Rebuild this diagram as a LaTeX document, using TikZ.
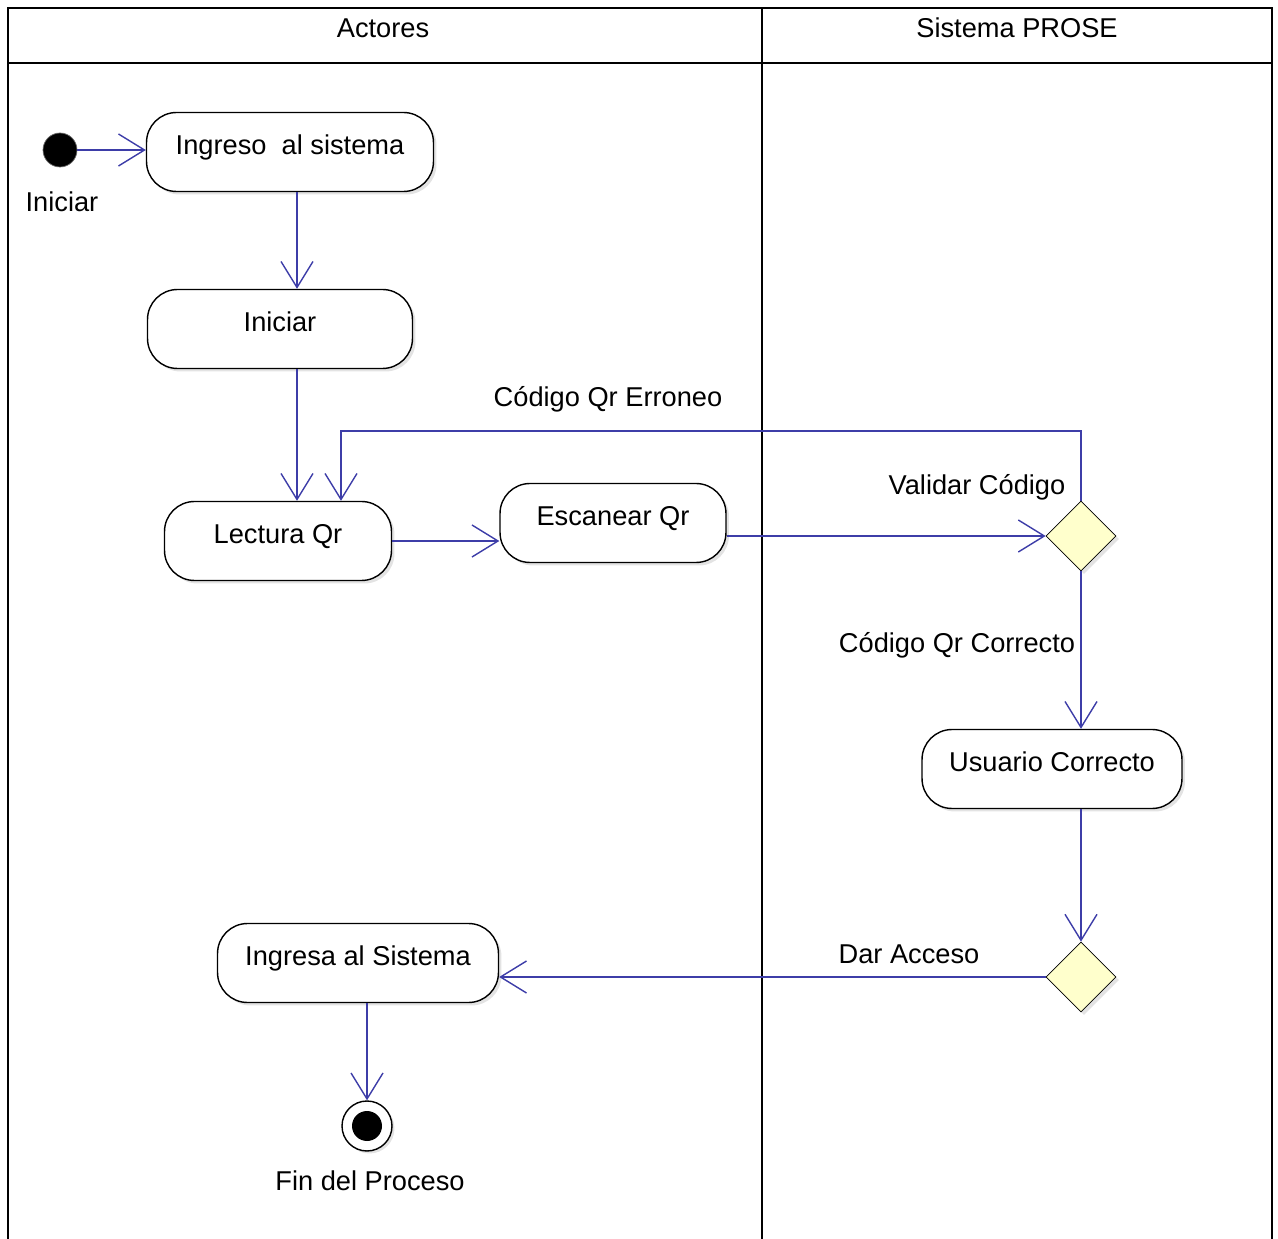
\documentclass[tikz,border=0pt]{standalone}
\usepackage{fontspec}
\setmainfont{Liberation Sans}
\usepackage{tikz}
\usetikzlibrary{positioning, arrows.meta, calc, shapes.geometric, shadows}
\definecolor{myBlue}{HTML}{3D3DA8}
\definecolor{myCream}{HTML}{FFFFCC}
\definecolor{myShade}{HTML}{C8C8C8}
\begin{document}
\begin{tikzpicture}[
  x=0.02cm, y=-0.02cm,
  font=\fontsize{15.5pt}{18pt}\selectfont,
  act/.style={draw=black, thick, rounded corners=0.6cm, fill=white,
              minimum height=1.58cm, align=center,
              text height=0.8em, text depth=0.5em,
              drop shadow={shadow xshift=0.06cm, shadow yshift=-0.06cm, fill=myShade}},
  dec/.style={diamond, draw=black, fill=myCream, minimum width=1.4cm,
              minimum height=1.4cm, inner sep=0pt,
              drop shadow={shadow xshift=0.06cm, shadow yshift=-0.06cm, fill=myShade}},
  flow/.style={-{Straight Barb[length=0.52cm, width=0.64cm]}, myBlue, line width=0.8pt},
  lane/.style={draw=black, line width=1.2pt}
]
\useasboundingbox (0,0) rectangle (1278,1239);
% swimlanes
\draw[lane] (8,1239) -- (8,8) -- (1272,8) -- (1272,1239);
\draw[lane] (8,63) -- (1272,63);
\draw[lane] (762,8) -- (762,1239);
\node (actores) at (383,28) {Actores};
\node (prose) at (1017,28) {Sistema PROSE};

% actividades
\node[circle, fill=black, draw=black!60, minimum size=0.68cm] (inicio) at (60,150) {};
\node (inilbl) at (62,202) {Iniciar};
\node[act, minimum width=5.74cm] (ingreso) at (290,152) {Ingreso\ \ al sistema};
\node[act, minimum width=5.3cm] (iniciar) at (280,329) {Iniciar};
\node[act, minimum width=4.54cm] (lectura) at (278,541) {Lectura Qr};
\node[act, minimum width=4.52cm] (escanear) at (613,523) {Escanear Qr};
\node[dec] (validar) at (1081,536) {};
\node (vallbl) at (977,487) {Validar Código};
\node[act, minimum width=5.2cm] (usuario) at (1052,769) {Usuario Correcto};
\node[dec] (acceso) at (1081,977) {};
\node[act, minimum width=5.62cm] (ingresa) at (358,963) {Ingresa al Sistema};
\node[circle, draw=black, thick, fill=white, minimum size=1cm,
      drop shadow={shadow xshift=0.05cm, shadow yshift=-0.05cm, fill=myShade}] (fin) at (367,1126) {};
\node[circle, fill=black, minimum size=0.6cm] (finin) at (fin) {};
\node (finlbl) at (370,1181) {Fin del Proceso};

% flujos
\coordinate (retorno) at (341,431);
\draw[flow] (inicio) -- (ingreso.west |- inicio);
\draw[flow] (ingreso.south -| 297,0) -- (iniciar.north -| 297,0);
\draw[flow] (iniciar.south -| 297,0) -- (lectura.north -| 297,0);
\draw[flow] (lectura.east) -- (escanear.west |- lectura.east);
\draw[flow] (escanear.east |- validar) -- (validar.west);
\draw[flow] (validar.north) |- (retorno) -- (lectura.north -| retorno);
\node (errlbl) at (608,399) {Código Qr Erroneo};
\draw[flow] (validar.south) -- (usuario.north -| validar.south);
\node (oklbl) at (957,645) {Código Qr Correcto};
\draw[flow] (usuario.south -| acceso) -- (acceso.north);
\draw[flow] (acceso.west) -- (ingresa.east |- acceso.west);
\node (darlbl) at (909,954) {Dar Acceso};
\draw[flow] (ingresa.south -| fin) -- (fin.north);
\end{tikzpicture}
\end{document}
